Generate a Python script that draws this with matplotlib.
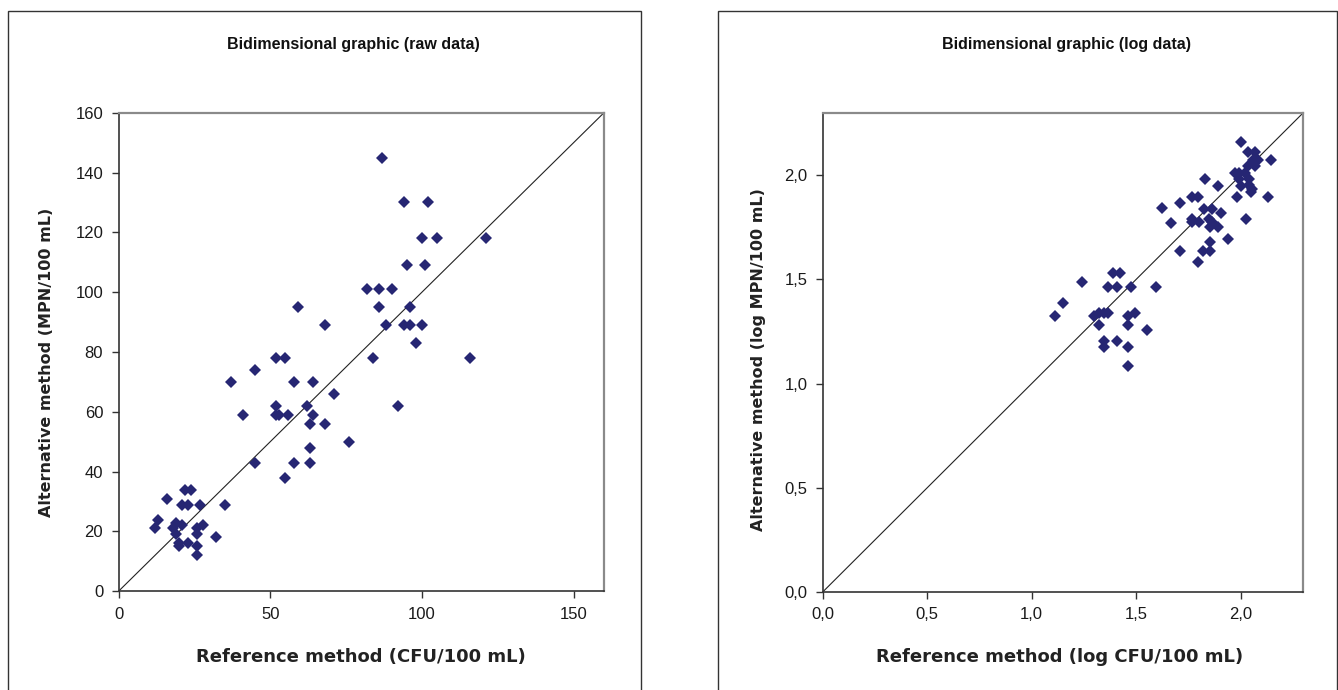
import matplotlib
matplotlib.use("Agg")
import matplotlib.pyplot as plt
from matplotlib.patches import Rectangle

# ---- data: raw ----
raw_ref = [12, 13, 16, 22, 24, 21, 23, 27, 35, 18, 19, 21, 19, 26, 28, 26, 32, 20, 20, 23, 26, 26,
           37, 41, 45, 45, 52, 55, 58, 64, 52, 52, 53, 56, 62, 64, 63, 68, 71, 63, 63, 58, 55, 76,
           87, 94, 102, 100, 105, 121, 95, 101, 82, 86, 90, 86, 96, 88, 94, 96, 100, 98, 59, 68, 84, 116, 92]
raw_alt = [21, 24, 31, 34, 34, 29, 29, 29, 29, 21, 23, 22, 19, 21, 22, 19, 18, 16, 15, 16, 15, 12,
           70, 59, 74, 43, 78, 78, 70, 70, 62, 59, 59, 59, 62, 59, 56, 56, 66, 48, 43, 43, 38, 50,
           145, 130, 130, 118, 118, 118, 109, 109, 101, 101, 101, 95, 95, 89, 89, 89, 89, 83, 95, 89, 78, 78, 62]

# ---- data: log ----
log_ref = [2.00, 2.035, 2.07, 2.06, 2.085, 2.147, 2.034, 2.07, 1.975, 1.994, 2.019, 1.83, 1.994, 2.04,
           1.89, 2.00, 2.038, 2.054, 2.051, 1.983, 2.129, 1.767, 1.794, 1.823, 1.863, 1.908, 1.767,
           1.767, 1.803, 1.847, 1.863, 2.027, 1.855, 1.89,
           1.624, 1.708, 1.665, 1.941, 1.855, 1.708, 1.821, 1.855, 1.794,
           1.389, 1.424, 1.242, 1.365, 1.408, 1.477, 1.596, 1.149, 1.113,
           1.296, 1.320, 1.344, 1.363, 1.320, 1.459, 1.494, 1.459, 1.553, 1.347, 1.347, 1.408, 1.459, 1.459]
log_alt = [2.16, 2.11, 2.11, 2.075, 2.075, 2.075, 2.043, 2.043, 2.01, 2.01, 2.01, 1.98, 1.98, 1.98,
           1.947, 1.947, 1.952, 1.936, 1.92, 1.896, 1.896, 1.896, 1.896, 1.84, 1.84, 1.82, 1.792,
           1.776, 1.776, 1.792, 1.776, 1.792, 1.752, 1.752,
           1.842, 1.869, 1.773, 1.696, 1.68, 1.636, 1.636, 1.636, 1.583,
           1.532, 1.532, 1.488, 1.463, 1.463, 1.463, 1.463, 1.385, 1.325,
           1.325, 1.341, 1.341, 1.341, 1.281, 1.325, 1.341, 1.281, 1.255, 1.205, 1.177, 1.205, 1.177, 1.084]

raw_xticks = [0, 50, 100, 150]
raw_xticklabels = ["0", "50", "100", "150"]
raw_yticks = [0, 20, 40, 60, 80, 100, 120, 140, 160]
raw_yticklabels = ["0", "20", "40", "60", "80", "100", "120", "140", "160"]
log_ticks = [0.0, 0.5, 1.0, 1.5, 2.0]
log_ticklabels = ["0,0", "0,5", "1,0", "1,5", "2,0"]

W, H = 1338, 690
fig = plt.figure(figsize=(W / 100, H / 100), dpi=100)
fig.patch.set_facecolor("white")

# outer chart frames
for x0, x1 in [(8, 641), (718, 1337)]:
    fig.patches.append(Rectangle((x0 / W, -0.05), (x1 - x0) / W, 1.05 - 11 / H,
                                 transform=fig.transFigure, fill=False,
                                 edgecolor="#333333", linewidth=1.0))

mcol = "#262673"

def style(ax):
    for s in ["left", "bottom"]:
        ax.spines[s].set_color("#333333")
        ax.spines[s].set_linewidth(1.2)
    for s in ["top", "right"]:
        ax.spines[s].set_color("#8a8a8a")
        ax.spines[s].set_linewidth(1.6)
    ax.tick_params(axis="both", direction="out", length=5, width=1, color="#333333",
                   labelsize=12, pad=6, labelcolor="#1a1a1a")
    for lab in ax.get_xticklabels() + ax.get_yticklabels():
        lab.set_family("Liberation Sans")

ax1 = fig.add_axes([118.5 / W, 1 - 591.3 / H, (604 - 118.5) / W, (591.3 - 112.7) / H])
ax1.plot([0, 160], [0, 160], color="#222222", linewidth=0.8, zorder=2)
ax1.plot(raw_ref, raw_alt, linestyle="none", marker="D", markersize=6.4,
         color=mcol, markeredgewidth=0, zorder=3)
ax1.set_xlim(0, 160)
ax1.set_ylim(0, 160)
ax1.set_xticks(raw_xticks)
ax1.set_xticklabels(raw_xticklabels)
ax1.set_yticks(raw_yticks)
ax1.set_yticklabels(raw_yticklabels)
style(ax1)

ax2 = fig.add_axes([822.7 / W, 1 - 592 / H, (1303.3 - 822.7) / W, (592 - 112.7) / H])
ax2.plot([0, 2.3], [0, 2.3], color="#222222", linewidth=0.8, zorder=2)
ax2.plot(log_ref, log_alt, linestyle="none", marker="D", markersize=6.4,
         color=mcol, markeredgewidth=0, zorder=3)
ax2.set_xlim(0, 2.3)
ax2.set_ylim(0, 2.3)
ax2.set_xticks(log_ticks)
ax2.set_xticklabels(log_ticklabels)
ax2.set_yticks(log_ticks)
ax2.set_yticklabels(log_ticklabels)
style(ax2)

# titles
fig.text(353 / W, 1 - 44 / H, "Bidimensional graphic (raw data)", ha="center", va="center",
         fontsize=11.5, fontweight="bold", family="Liberation Sans", color="#111111")
fig.text(1066 / W, 1 - 44 / H, "Bidimensional graphic (log data)", ha="center", va="center",
         fontsize=11.5, fontweight="bold", family="Liberation Sans", color="#111111")

# axis labels
fig.text(361 / W, 1 - 657 / H, "Reference method (CFU/100 mL)", ha="center", va="center",
         fontsize=13, fontweight="bold", family="DejaVu Sans", color="#222222")
fig.text(1060 / W, 1 - 657 / H, "Reference method (log CFU/100 mL)", ha="center", va="center",
         fontsize=13, fontweight="bold", family="DejaVu Sans", color="#222222")
fig.text(47 / W, 1 - 362 / H, "Alternative method (MPN/100 mL)", ha="center", va="center",
         rotation=90, fontsize=11.5, fontweight="bold", family="DejaVu Sans", color="#222222")
fig.text(758 / W, 1 - 360 / H, "Alternative method (log MPN/100 mL)", ha="center", va="center",
         rotation=90, fontsize=11.5, fontweight="bold", family="DejaVu Sans", color="#222222")

fig.savefig("out.png", dpi=100, facecolor="white")
